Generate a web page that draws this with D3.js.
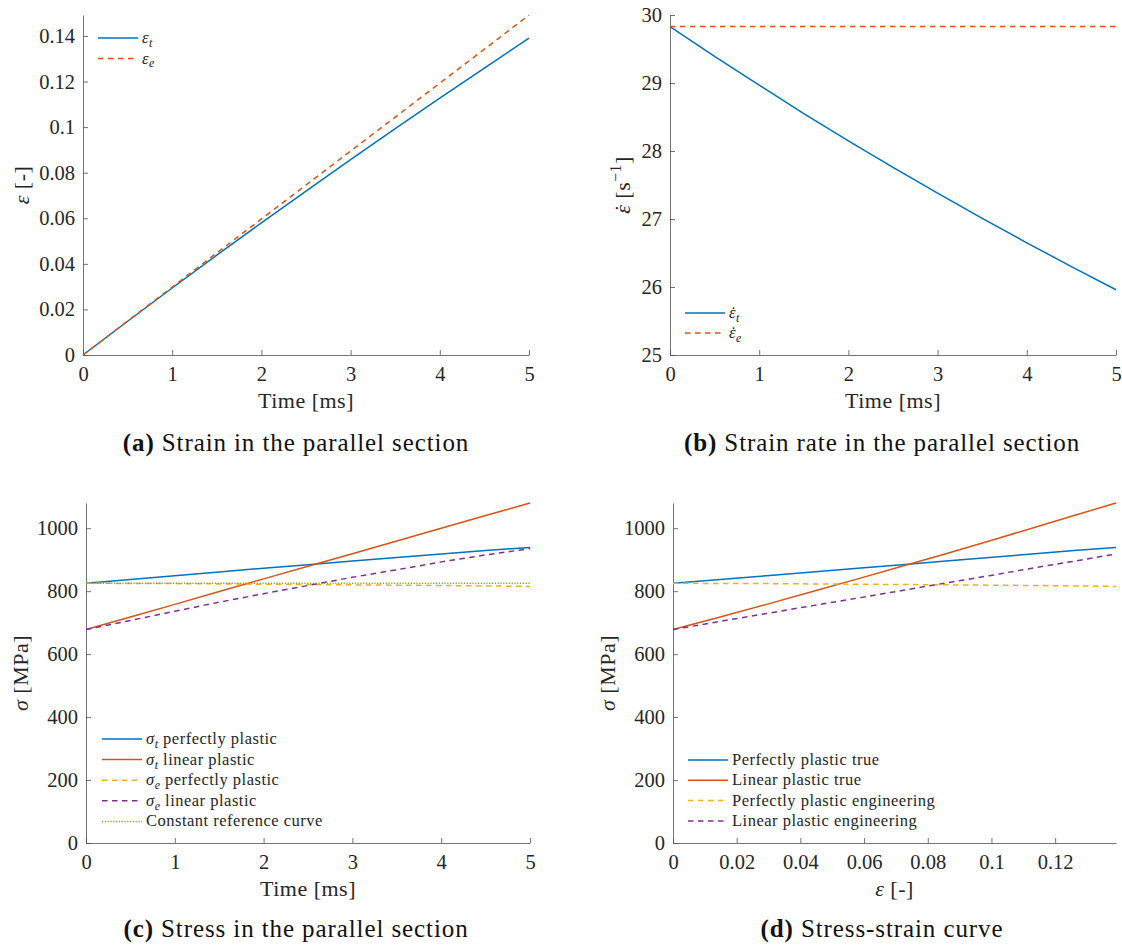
<!DOCTYPE html>
<html>
<head>
    <title>Strain and stress in the parallel section</title>
    <script src="https://d3js.org/d3.v7.min.js"></script>
    <style>
        body {
            margin: 0;
            background: #fff;
            font-family: "Liberation Serif", "Times New Roman", serif;
        }
        .axis path, .axis line {
            stroke: #505050;
            stroke-width: 0.8;
        }
        .axis text {
            fill: #262626;
            font-family: "Liberation Serif", serif;
            font-size: 20.5px;
        }
    </style>
</head>
<body>
    <div id="chart"></div>

    <script>
        // Time samples [ms]
        const time = [0, 0.5, 1, 1.5, 2, 2.5, 3, 3.5, 4, 4.5, 5];

        // (a) strain [-]
        const strainTrue = [0, 0.0148, 0.0294, 0.0438, 0.0580, 0.0719, 0.0857, 0.0993, 0.1127, 0.1259, 0.1391];
        const strainEng = [0, 0.0149, 0.0298, 0.0448, 0.0597, 0.0746, 0.0895, 0.1044, 0.1193, 0.1342, 0.1492];

        // (b) strain rate [1/s]
        const rateTrue = [29.83, 29.39, 28.97, 28.55, 28.15, 27.76, 27.38, 27.01, 26.65, 26.30, 25.96];
        const rateEng = [29.83, 29.83, 29.83, 29.83, 29.83, 29.83, 29.83, 29.83, 29.83, 29.83, 29.83];

        // (c) stress [MPa] vs time
        const stressTruePerfect = [825, 837, 849, 861, 873, 884, 896, 907, 918, 929, 939];
        const stressTrueLinear = [678, 718, 758, 799, 839, 879, 919, 959, 1000, 1040, 1080];
        const stressEngPerfect = [825, 824.5, 824, 823, 822, 821, 820, 819, 818, 816.5, 815];
        const stressEngLinear = [678, 707, 736, 765, 792, 818, 844, 868, 893, 915, 935];
        const stressRef = [825, 825, 825, 825, 825, 825, 825, 825, 825, 825, 825];

        // (d) engineering linear plastic curve as plotted against strain
        const stressEngLinearCurve = [678, 704, 729, 754, 778, 802, 826, 849, 873, 895, 918];

        // tick labels
        const timeTicks = [0, 1, 2, 3, 4, 5];
        const strainTicks = [0, 0.02, 0.04, 0.06, 0.08, 0.1, 0.12, 0.14];
        const rateTicks = [25, 26, 27, 28, 29, 30];
        const stressTicks = [0, 200, 400, 600, 800, 1000];

        const blue = '#0072BD', orange = '#D95319', yellow = '#EDB120',
              purple = '#7E2F8E', green = '#77AC30';
        const dash = '5.5,4.5', dot = '1.2,1.6';
        const serif = '"Liberation Serif", serif';

        const svg = d3.select('#chart').append('svg')
            .attr('width', 1122)
            .attr('height', 949)
            .attr('font-family', serif);

        // writes a label made of plain / italic / subscript / superscript parts,
        // a part with dot:true gets a dot accent laid over it
        function rich(text, parts, size) {
            let shift = 0, carry = 0;
            parts.forEach(p => {
                const ts = text.append('tspan').text(p.t);
                let target = 0, dx = carry;
                carry = 0;
                if (p.sub) target = size * 0.24;
                if (p.sup) target = -size * 0.4;
                if (target !== shift) { ts.attr('dy', target - shift); shift = target; }
                if (p.sub || p.sup) ts.attr('font-size', size * 0.72);
                if (p.i) ts.style('font-style', 'italic');
                if (p.b) ts.style('font-weight', 'bold');
                if (dx) ts.attr('dx', dx);
                if (p.dot) {
                    const w = ts.node().getComputedTextLength();
                    const d = text.append('tspan').text('\u02D9');
                    const dw = d.node().getComputedTextLength();
                    const off = size * 0.07;
                    d.attr('dx', -(w + dw) / 2 + off);
                    carry = (w - dw) / 2 - off;
                }
            });
        }

        function fmt(d) { return String(+d.toFixed(4)); }

        function panel(cfg) {
            const x = d3.scaleLinear().domain(cfg.xDomain).range([cfg.left, cfg.right]);
            const y = d3.scaleLinear().domain(cfg.yDomain).range([cfg.bottom, cfg.top]);
            const g = svg.append('g');

            g.append('g').attr('class', 'axis')
                .attr('transform', `translate(0,${cfg.bottom})`)
                .call(d3.axisBottom(x).tickValues(cfg.xTicks).tickFormat(fmt)
                    .tickSizeInner(-5).tickSizeOuter(0).tickPadding(11));
            g.append('g').attr('class', 'axis')
                .attr('transform', `translate(${cfg.left},0)`)
                .call(d3.axisLeft(y).tickValues(cfg.yTicks).tickFormat(fmt)
                    .tickSizeInner(-5).tickSizeOuter(0).tickPadding(8));
            g.selectAll('.axis').attr('font-family', serif).attr('font-size', 20.5);

            const line = d3.line().x(d => x(d[0])).y(d => y(d[1]));
            cfg.series.forEach(s => {
                g.append('path')
                    .datum(cfg.xs.map((v, i) => [v, s.values[i]]))
                    .attr('fill', 'none')
                    .attr('stroke', s.color)
                    .attr('stroke-width', 1.5)
                    .attr('stroke-dasharray', s.dash || null)
                    .attr('d', line);
            });

            // legend
            cfg.series.forEach((s, i) => {
                const ly = cfg.legend.y + i * cfg.legend.step;
                g.append('line')
                    .attr('x1', cfg.legend.x).attr('x2', cfg.legend.x + 40)
                    .attr('y1', ly).attr('y2', ly)
                    .attr('stroke', s.color).attr('stroke-width', 1.5)
                    .attr('stroke-dasharray', s.dash || null);
                const t = g.append('text')
                    .attr('x', cfg.legend.x + 44).attr('y', ly + 5)
                    .attr('font-size', 16.5).attr('fill', '#262626')
                    .style('letter-spacing', '0.5px');
                rich(t, s.label, 16.5);
            });

            // axis labels
            const xl = g.append('text')
                .attr('x', (cfg.left + cfg.right) / 2).attr('y', cfg.bottom + 53)
                .attr('text-anchor', 'middle').attr('font-size', 22).attr('fill', '#262626')
                .style('letter-spacing', '0.5px');
            rich(xl, cfg.xLabel, 22);
            const yl = g.append('text')
                .attr('transform', `translate(${cfg.yLabelX},${(cfg.top + cfg.bottom) / 2}) rotate(-90)`)
                .attr('text-anchor', 'middle').attr('font-size', 22).attr('fill', '#262626')
                .style('letter-spacing', '0.5px');
            rich(yl, cfg.yLabel, 22);

            // caption
            const cap = g.append('text')
                .attr('x', cfg.capX).attr('y', cfg.bottom + cfg.capDy)
                .attr('text-anchor', 'middle').attr('font-size', 25).attr('fill', '#111')
                .style('letter-spacing', '0.9px');
            rich(cap, cfg.caption, 25);
        }

        const timeLabel = [{t: 'Time [ms]'}];
        const sigmaLabel = [{t: 'σ', i: true}, {t: ' [MPa]'}];

        panel({
            left: 83, right: 529, top: 15, bottom: 355,
            xDomain: [0, 5], yDomain: [0, 0.1492],
            xTicks: timeTicks, yTicks: strainTicks, xs: time,
            series: [
                {values: strainTrue, color: blue, label: [{t: 'ε', i: true}, {t: 't', i: true, sub: true}]},
                {values: strainEng, color: orange, dash: dash, label: [{t: 'ε', i: true}, {t: 'e', i: true, sub: true}]}
            ],
            legend: {x: 98, y: 38, step: 20.5},
            xLabel: timeLabel, yLabel: [{t: 'ε', i: true}, {t: ' [-]'}], yLabelX: 29,
            caption: [{t: '(a)', b: true}, {t: ' Strain in the parallel section'}], capX: 296, capDy: 96
        });

        panel({
            left: 670, right: 1116, top: 15, bottom: 355,
            xDomain: [0, 5], yDomain: [25, 30],
            xTicks: timeTicks, yTicks: rateTicks, xs: time,
            series: [
                {values: rateTrue, color: blue, label: [{t: 'ε', i: true, dot: true}, {t: 't', i: true, sub: true}]},
                {values: rateEng, color: orange, dash: dash, label: [{t: 'ε', i: true, dot: true}, {t: 'e', i: true, sub: true}]}
            ],
            legend: {x: 685, y: 313, step: 20},
            xLabel: timeLabel,
            yLabel: [{t: 'ε', i: true, dot: true}, {t: ' [s'}, {t: '−1', sup: true}, {t: ']'}], yLabelX: 630,
            caption: [{t: '(b)', b: true}, {t: ' Strain rate in the parallel section'}], capX: 882, capDy: 96
        });

        panel({
            left: 86, right: 530, top: 503, bottom: 843,
            xDomain: [0, 5], yDomain: [0, 1080],
            xTicks: timeTicks, yTicks: stressTicks, xs: time,
            series: [
                {values: stressTruePerfect, color: blue, label: [{t: 'σ', i: true}, {t: 't', i: true, sub: true}, {t: ' perfectly plastic'}]},
                {values: stressTrueLinear, color: orange, label: [{t: 'σ', i: true}, {t: 't', i: true, sub: true}, {t: ' linear plastic'}]},
                {values: stressEngPerfect, color: yellow, dash: dash, label: [{t: 'σ', i: true}, {t: 'e', i: true, sub: true}, {t: ' perfectly plastic'}]},
                {values: stressEngLinear, color: purple, dash: dash, label: [{t: 'σ', i: true}, {t: 'e', i: true, sub: true}, {t: ' linear plastic'}]},
                {values: stressRef, color: green, dash: dot, label: [{t: 'Constant reference curve'}]}
            ],
            legend: {x: 102, y: 739, step: 20.6},
            xLabel: timeLabel, yLabel: sigmaLabel, yLabelX: 28,
            caption: [{t: '(c)', b: true}, {t: ' Stress in the parallel section'}], capX: 296, capDy: 94
        });

        panel({
            left: 673, right: 1116, top: 503, bottom: 843,
            xDomain: [0, 0.1391], yDomain: [0, 1080],
            xTicks: strainTicks.slice(0, 7), yTicks: stressTicks, xs: strainTrue,
            series: [
                {values: stressTruePerfect, color: blue, label: [{t: 'Perfectly plastic true'}]},
                {values: stressTrueLinear, color: orange, label: [{t: 'Linear plastic true'}]},
                {values: stressEngPerfect, color: yellow, dash: dash, label: [{t: 'Perfectly plastic engineering'}]},
                {values: stressEngLinearCurve, color: purple, dash: dash, label: [{t: 'Linear plastic engineering'}]}
            ],
            legend: {x: 688, y: 760, step: 20.3},
            xLabel: [{t: 'ε', i: true}, {t: ' [-]'}], yLabel: sigmaLabel, yLabelX: 615,
            caption: [{t: '(d)', b: true}, {t: ' Stress-strain curve'}], capX: 882, capDy: 94
        });
    </script>
</body>
</html>
